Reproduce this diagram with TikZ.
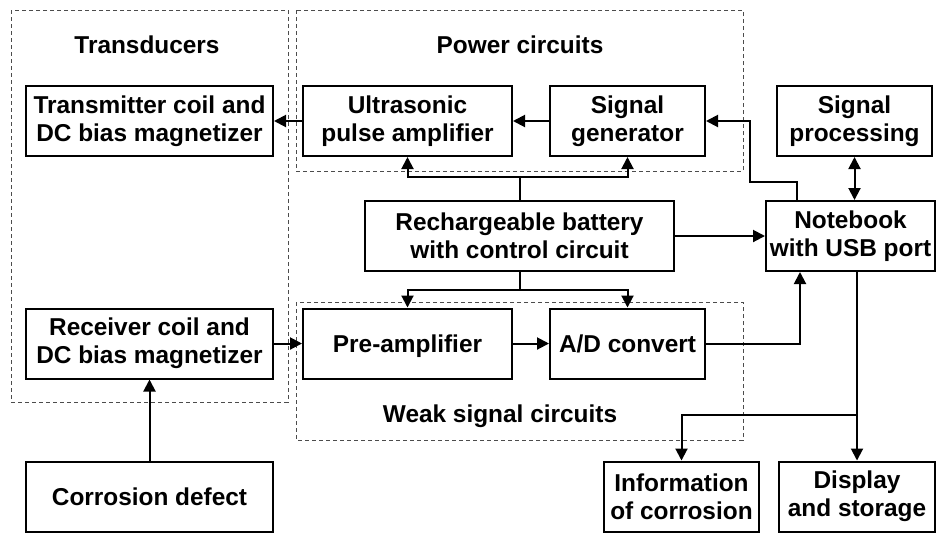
\documentclass[tikz,border=0pt]{standalone}
\usepackage{fontspec}
\setmainfont{Liberation Sans}
\usepackage{tikz}
\usetikzlibrary{positioning, arrows.meta}

\begin{document}
\begin{tikzpicture}[
        x=0.5pt, y=-0.5pt,
        font=\bfseries\fontsize{12.2}{14}\selectfont,
        block/.style={draw, line width=1pt, align=center, inner sep=0pt, minimum height=35pt},
        oneline/.style={text height=8.7pt, text depth=0pt},
        group/.style={draw=black!70, line width=0.5pt, dash pattern=on 2pt off 1.5pt},
        link/.style={line width=1pt, -{Triangle[length=6pt, width=6pt]}}
    ]
        \useasboundingbox (0,0) rectangle (936,532);

        % groups
        \draw[group] (11,10) rectangle (288,402);
        \draw[group] (296,10) rectangle (743,171);
        \draw[group] (296,302) rectangle (743,440);
        \node (transducers) at (147,45) {Transducers};
        \node (powerlabel) at (520,45) {Power circuits};
        \node (weaklabel) at (500,416) {Weak signal circuits};

        % blocks
        \node[block, minimum width=123.5pt] (transmitter) at (149.5,121) {Transmitter coil and\\DC bias magnetizer};
        \node[block, minimum width=104.5pt] (ultrasonic) at (407.5,121) {Ultrasonic\\pulse amplifier};
        \node[block, minimum width=77.5pt] (generator) at (627.5,121) {Signal\\generator};
        \node[block, minimum width=77.5pt] (processing) at (854.5,121) {Signal\\processing};
        \node[block, minimum width=154.5pt] (battery) at (519.5,236) {Rechargeable battery\\with control circuit};
        \node[block, minimum width=84.5pt] (notebook) at (850.5,236) {Notebook\\with USB port};
        \node[block, minimum width=123.5pt] (receiver) at (149.5,343.5) {Receiver coil and\\DC bias magnetizer};
        \node[block, oneline, minimum width=104.5pt] (preamp) at (407.5,343.5) {Pre-amplifier};
        \node[block, oneline, minimum width=77.5pt] (converter) at (627.5,343.5) {A/D convert};
        \node[block, oneline, minimum width=123.5pt] (corrosion) at (149.5,496.5) {Corrosion defect};
        \node[block, minimum width=77.5pt] (information) at (681.5,496.5) {Information\\of corrosion};
        \node[block, minimum width=78pt] (display) at (857,496.5) {Display\\and storage};

        % connections
        \draw[link] (ultrasonic) -- (transmitter);
        \draw[link] (generator) -- (ultrasonic);
        \draw[line width=1pt] (battery.north) -- ++(0,-23) coordinate (powersplit);
        \draw[link] (powersplit) -| (ultrasonic.south);
        \draw[link] (powersplit) -| (generator.south);
        \draw[line width=1pt] (battery.south) -- ++(0,18) coordinate (weaksplit);
        \draw[link] (weaksplit) -| (preamp.north);
        \draw[link] (weaksplit) -| (converter.north);
        \draw[link] (battery) -- (notebook);
        \draw[link] ([xshift=-26.75pt]notebook.north) |- (750,182) |- (generator.east);
        \draw[line width=1pt, {Triangle[length=6pt, width=6pt]}-{Triangle[length=6pt, width=6pt]}] (processing.south) -- (processing.south |- notebook.north);
        \draw[link] (receiver) -- (preamp);
        \draw[link] (preamp) -- (converter);
        \draw[link] (converter.east) -| ([xshift=-25.25pt]notebook.south);
        \draw[link] (corrosion) -- (receiver);
        \draw[link] (display.north |- notebook.south) -- (display.north);
        \coordinate (outsplit) at (display.north |- 0,415);
        \draw[link] (outsplit) -| (information.north);
\end{tikzpicture}
\end{document}
